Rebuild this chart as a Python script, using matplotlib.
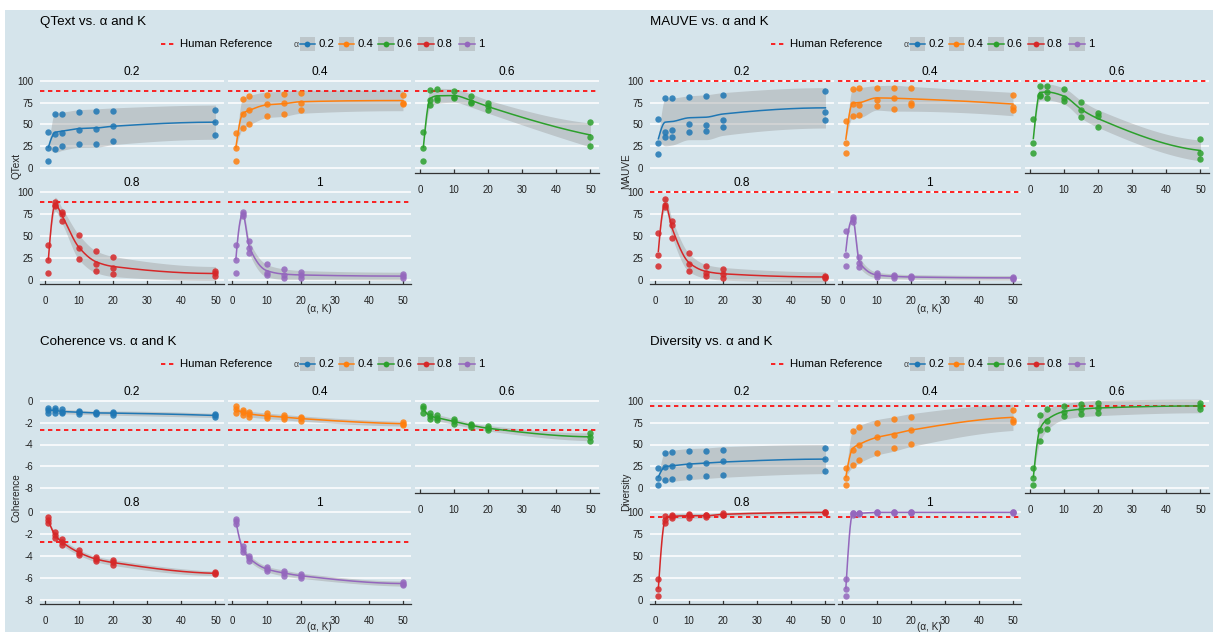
import numpy as np
import matplotlib
matplotlib.use("Agg")
import matplotlib.pyplot as plt
from matplotlib.patches import Rectangle

# ---------------------------------------------------------------------------
# Data: three replicate runs per top-K value, one list per (metric, alpha)
# ---------------------------------------------------------------------------
K_VALUES = [1, 3, 5, 10, 15, 20, 50]
ALPHA_LEVELS = ["0.2", "0.4", "0.6", "0.8", "1"]
ALPHA_COLORS = ["#1f77b4", "#ff7f0e", "#2ca02c", "#d62728", "#9467bd"]

qtext_a02 = [[41, 23, 8], [62, 39, 22], [62, 40, 25], [64, 44, 28], [65, 45, 28], [65, 48, 31], [67, 53, 38]]
qtext_a04 = [[40, 23, 8], [79, 62, 46], [82, 66, 51], [84, 73, 60], [85, 74, 62], [86, 75, 67], [84, 75, 73]]
qtext_a06 = [[41, 23, 8], [89, 78, 72], [90, 80, 78], [88, 81, 80], [82, 76, 74], [74, 71, 66], [53, 36, 25]]
qtext_a08 = [[40, 22, 7], [89, 85, 84], [77, 75, 67], [51, 36, 23], [33, 18, 10], [26, 13, 6], [10, 7, 4]]
qtext_a10 = [[40, 22, 7], [77, 75, 73], [44, 36, 30], [18, 8, 5], [12, 5, 2], [9, 5, 2], [6, 4, 2]]

mauve_a02 = [[56, 29, 16], [80, 42, 36], [80, 44, 36], [81, 50, 42], [83, 49, 43], [84, 55, 47], [88, 64, 55]]
mauve_a04 = [[54, 29, 17], [90, 73, 60], [92, 72, 61], [92, 78, 71], [92, 80, 68], [92, 74, 72], [84, 70, 66]]
mauve_a06 = [[56, 29, 17], [94, 84, 82], [94, 87, 80], [90, 80, 77], [76, 67, 59], [63, 60, 47], [33, 17, 11]]
mauve_a08 = [[53, 28, 16], [92, 85, 83], [67, 62, 48], [30, 18, 10], [16, 8, 4], [12, 6, 2], [4, 3, 2]]
mauve_a10 = [[55, 28, 15], [72, 69, 66], [26, 19, 14], [8, 5, 3], [5, 4, 2], [4, 3, 2], [3, 2, 1]]

coherence_a02 = [[-0.65, -0.85, -1.1], [-0.7, -0.85, -1.15], [-0.8, -1.0, -1.15], [-0.9, -1.05, -1.2],
                 [-1.0, -1.1, -1.25], [-1.0, -1.1, -1.3], [-1.2, -1.35, -1.5]]
coherence_a04 = [[-0.5, -0.8, -1.1], [-0.85, -1.05, -1.3], [-1.0, -1.2, -1.45], [-1.15, -1.4, -1.6],
                 [-1.3, -1.5, -1.7], [-1.45, -1.6, -1.85], [-1.95, -2.1, -2.25]]
coherence_a06 = [[-0.5, -0.7, -1.1], [-1.15, -1.4, -1.65], [-1.3, -1.55, -1.8], [-1.7, -1.9, -2.1],
                 [-2.1, -2.25, -2.4], [-2.35, -2.5, -2.7], [-2.95, -3.3, -3.65]]
coherence_a08 = [[-0.5, -0.75, -1.05], [-1.85, -2.1, -2.4], [-2.5, -2.7, -3.0], [-3.5, -3.7, -3.9],
                 [-4.1, -4.3, -4.5], [-4.4, -4.6, -4.85], [-5.5, -5.6, -5.7]]
coherence_a10 = [[-0.6, -0.8, -1.1], [-3.1, -3.35, -3.65], [-4.0, -4.2, -4.5], [-5.0, -5.2, -5.4],
                 [-5.35, -5.55, -5.8], [-5.65, -5.8, -6.0], [-6.35, -6.55, -6.7]]

diversity_a02 = [[23, 12, 4], [40, 24, 10], [41, 25, 11], [43, 27, 13], [43, 29, 14], [44, 31, 15], [46, 34, 20]]
diversity_a04 = [[23, 12, 4], [65, 44, 27], [70, 49, 32], [75, 59, 40], [79, 61, 46], [81, 67, 51], [89, 78, 76]]
diversity_a06 = [[23, 12, 4], [84, 67, 54], [90, 77, 68], [94, 87, 82], [96, 90, 85], [97, 92, 86], [97, 94, 91]]
diversity_a08 = [[23, 12, 4], [95, 91, 87], [97, 95, 93], [98, 96, 93], [97, 96, 94], [99, 97, 96], [100, 99.5, 99]]
diversity_a10 = [[23, 12, 4], [99, 98.5, 97], [99, 98.5, 98], [100, 99.6, 99.2], [100, 99.6, 99.3],
                 [100, 99.6, 99.3], [100, 99.6, 99.3]]

# Human reference levels
qtext_human = 88.5
mauve_human = 100.0
coherence_human = -2.72
diversity_human = 94.3

# ---------------------------------------------------------------------------
# Styling
# ---------------------------------------------------------------------------
W, H = 1213, 632
BG = "#d5e4eb"
TXT = "#222222"
FONT = ["Liberation Sans", "DejaVu Sans"]
plt.rcParams["font.family"] = FONT
plt.rcParams["axes.unicode_minus"] = False

PANEL_X = [40.0, 227.5, 415.0]
PANEL_Y = [76.3, 187.6]
PANEL_W, PANEL_H = 183.8, 96.4
KEY_X = [299.6, 338.5, 378.2, 418.3, 459.1]

fig = plt.figure(figsize=(W / 100, H / 100), dpi=100, facecolor="white")
canvas = fig.add_axes([0, 0, 1, 1], zorder=0)
canvas.set_xlim(0, W)
canvas.set_ylim(H, 0)
canvas.axis("off")
canvas.add_patch(Rectangle((5, 9.5), W - 5, H - 9.5, facecolor=BG, edgecolor="none"))


def pchip(x, y, xs):
    """Shape-preserving piecewise cubic through (x, y), evaluated at xs."""
    x = np.asarray(x, float)
    y = np.asarray(y, float)
    h = np.diff(x)
    d = np.diff(y) / h
    n = len(x)
    m = np.zeros(n)
    for k in range(1, n - 1):
        if d[k - 1] * d[k] > 0:
            w1 = 2 * h[k] + h[k - 1]
            w2 = h[k] + 2 * h[k - 1]
            m[k] = (w1 + w2) / (w1 / d[k - 1] + w2 / d[k])

    def end(h0, h1, d0, d1):
        v = ((2 * h0 + h1) * d0 - h0 * d1) / (h0 + h1)
        if np.sign(v) != np.sign(d0):
            return 0.0
        if np.sign(d0) != np.sign(d1) and abs(v) > abs(3 * d0):
            return 3 * d0
        return v

    m[0] = end(h[0], h[1], d[0], d[1])
    m[-1] = end(h[-1], h[-2], d[-1], d[-2])
    idx = np.clip(np.searchsorted(x, xs) - 1, 0, n - 2)
    t = (xs - x[idx]) / h[idx]
    h00 = 2 * t**3 - 3 * t**2 + 1
    h10 = t**3 - 2 * t**2 + t
    h01 = -2 * t**3 + 3 * t**2
    h11 = t**3 - t**2
    return (h00 * y[idx] + h10 * h[idx] * m[idx]
            + h01 * y[idx + 1] + h11 * h[idx] * m[idx + 1])


def smooth_fit(k, reps):
    """Mean curve and a confidence band derived from the replicate spread."""
    reps = np.asarray(reps, float)
    mean = reps.mean(axis=1)
    sd = reps.std(axis=1, ddof=1)
    pooled = np.sqrt(np.mean(sd[1:] ** 2))
    half = 1.2 * np.sqrt((sd ** 2 + pooled ** 2) / 2)
    half[0] = 0.0
    xs = np.linspace(k[0], k[-1], 400)
    centre = pchip(k, mean, xs)
    lo = pchip(k, mean - half, xs)
    hi = pchip(k, mean + half, xs)
    return xs, centre, lo, hi


def ftext(x, y, s, **kw):
    kw.setdefault("color", TXT)
    canvas.text(x, y, s, **kw)


def draw_metric(name, series, human, ylim, yticks, ox, oy):
    ftext(ox + 40, oy + 22, f"{name} vs. \u03b1 and K", fontsize=9.6, va="center", ha="left", color="black")

    # legend row
    ly = oy + 44
    canvas.plot([ox + 161, ox + 176], [ly, ly], color="red", lw=1.2, ls=(0, (2.6, 2.2)))
    ftext(ox + 179.5, ly, "Human Reference", fontsize=8.2, va="center", ha="left", color="black")
    ftext(ox + 293.5, ly + 0.5, "\u03b1", fontsize=6.3, va="center", ha="left", color="#444444")
    for lab, col, kx in zip(ALPHA_LEVELS, ALPHA_COLORS, KEY_X):
        kx = ox + kx
        canvas.add_patch(Rectangle((kx, ly - 7), 15.5, 14, facecolor="#999999", alpha=0.4, edgecolor="none"))
        canvas.plot([kx, kx + 15.5], [ly, ly], color=col, lw=1.1)
        canvas.plot([kx + 7.75], [ly], "o", color=col, ms=4.2, mec="none")
        ftext(kx + 18.5, ly, lab, fontsize=8.2, va="center", ha="left", color="black")

    # axis titles
    ftext(ox + 16, oy + 153, name, fontsize=7.2, rotation=90, ha="center", va="top")
    title_y = oy + 309.5
    if title_y + 5 > H:
        ftext(ox + PANEL_X[1] + PANEL_W / 2, H - 0.5, "(\u03b1, K)", fontsize=7.2, ha="center", va="bottom")
    else:
        ftext(ox + PANEL_X[1] + PANEL_W / 2, title_y, "(\u03b1, K)", fontsize=7.2, ha="center", va="center")

    k = np.asarray(K_VALUES, float)
    for j, (lab, col, reps) in enumerate(zip(ALPHA_LEVELS, ALPHA_COLORS, series)):
        c, r = j % 3, j // 3
        x0 = ox + PANEL_X[c]
        y0 = oy + PANEL_Y[r]
        ax = fig.add_axes([x0 / W, 1 - (y0 + PANEL_H) / H, PANEL_W / W, PANEL_H / H], zorder=1)
        ax.patch.set_alpha(0)
        ax.set_xlim(-1.45, 52.45)
        ax.set_ylim(*ylim)
        ax.set_yticks(yticks)
        ax.set_xticks([0, 10, 20, 30, 40, 50])
        ax.grid(axis="y", color="white", lw=1.1)
        ax.grid(axis="x", visible=False)
        ax.set_axisbelow(True)
        for side in ("left", "right", "top"):
            ax.spines[side].set_visible(False)
        has_x = (r == 1) or (c == 2)
        ax.spines["bottom"].set_visible(has_x)
        ax.spines["bottom"].set_color("#333333")
        ax.spines["bottom"].set_linewidth(0.9)
        ax.tick_params(axis="y", length=0, pad=5, labelsize=7, labelcolor=TXT, labelleft=(c == 0))
        if has_x:
            ax.tick_params(axis="x", direction="in", length=3.2, width=0.9, color="#333333",
                           pad=8.5, labelsize=7, labelcolor=TXT)
        else:
            ax.tick_params(axis="x", length=0, labelbottom=False)

        canvas.text(x0 + PANEL_W / 2, y0 - 4.3, lab, fontsize=8.6, ha="center", va="center", color="black")

        xs, centre, lo, hi = smooth_fit(k, reps)
        ax.fill_between(xs, lo, hi, color="#999999", alpha=0.4, lw=0, zorder=2)
        ax.axhline(human, color="red", lw=1.2, ls=(0, (2.6, 2.2)), zorder=2.5)
        ax.plot(xs, centre, color=col, lw=1.1, zorder=3)
        arr = np.asarray(reps, float)
        for i in range(arr.shape[1]):
            ax.plot(k, arr[:, i], "o", color=col, ms=4.6, mec="none", alpha=0.85, zorder=4, clip_on=False)


draw_metric("QText", [qtext_a02, qtext_a04, qtext_a06, qtext_a08, qtext_a10], qtext_human,
            (-5, 105), [0, 25, 50, 75, 100], 0, 0)
draw_metric("MAUVE", [mauve_a02, mauve_a04, mauve_a06, mauve_a08, mauve_a10], mauve_human,
            (-5, 105), [0, 25, 50, 75, 100], 610, 0)
draw_metric("Coherence", [coherence_a02, coherence_a04, coherence_a06, coherence_a08, coherence_a10],
            coherence_human, (-8.4, 0.4), [-8, -6, -4, -2, 0], 0, 320)
draw_metric("Diversity", [diversity_a02, diversity_a04, diversity_a06, diversity_a08, diversity_a10],
            diversity_human, (-5, 105), [0, 25, 50, 75, 100], 610, 320)

fig.savefig("out.png", dpi=100, facecolor="white")
